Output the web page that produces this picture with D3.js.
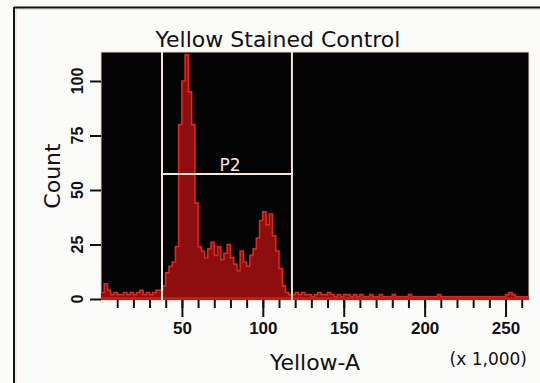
<!DOCTYPE html>
<html>
<head>
<meta charset="utf-8">
<script src="https://cdn.jsdelivr.net/npm/d3@7"></script>
<style>
  html, body { margin: 0; padding: 0; background: #fbfbfa; }
  svg { display: block; }
</style>
</head>
<body>
<div id="chart"></div>
<script>
// histogram of Yellow-A (x 1,000), bins 2 units wide starting at 0
const binWidth = 2;
const counts = [
  3, 7, 4, 2, 3, 2, 2, 3, 2, 3, 2, 3, 4, 2, 3, 2, 3, 4, 4,
  6, 12, 15, 17, 24, 80, 100, 112, 95, 80, 44, 24, 22, 19, 23, 26, 20, 24, 18, 21,
  25, 19, 16, 13, 22, 17, 15, 20, 23, 28, 36, 40, 34, 39, 29, 22, 14, 6, 3, 2,
  2, 3, 2, 3, 2, 2, 1, 2, 3, 2, 2, 3, 2, 1, 2, 1, 2, 2, 1, 2, 1, 2, 1, 1, 2, 1,
  1, 2, 1, 1, 1, 2, 1, 1, 1, 1, 2, 1, 1, 1, 1, 1, 1, 1, 1, 2, 1, 1, 1, 1, 1, 1,
  1, 1, 1, 1, 1, 1, 1, 1, 1, 1, 1, 1, 1, 1, 2, 3, 2, 1, 1, 1, 1
];
const xMajorTicks = [50, 100, 150, 200, 250];
const xMinorTicks = d3.range(10, 261, 10);
const yTicks = [0, 25, 50, 75, 100];
const gate = { name: "P2", from: 37.7, to: 118, level: 57.3 };

const W = 540, H = 383;
const plot = { left: 101, right: 529, top: 52, bottom: 299 };

const svg = d3.select('#chart').append('svg')
  .attr('width', W).attr('height', H);

// outer frame (top + left edges visible)
svg.append('rect').attr('x', 0).attr('y', 0).attr('width', W).attr('height', H).attr('fill', '#fbfbfa');
svg.append('line').attr('x1', 14).attr('x2', W).attr('y1', 7.5).attr('y2', 7.5)
  .attr('stroke', '#111').attr('stroke-width', 2);
svg.append('line').attr('x1', 14).attr('x2', 14).attr('y1', 7).attr('y2', H)
  .attr('stroke', '#111').attr('stroke-width', 2);
svg.append('line').attr('x1', 16).attr('x2', W).attr('y1', 9.5).attr('y2', 9.5)
  .attr('stroke', '#f2d6c8').attr('stroke-width', 1);
svg.append('line').attr('x1', 16).attr('x2', 16).attr('y1', 9).attr('y2', H)
  .attr('stroke', '#f2d6c8').attr('stroke-width', 1);

const x = d3.scaleLinear().domain([0, 264.5]).range([plot.left, plot.right]);
const y = d3.scaleLinear().domain([0, 113.3]).range([plot.bottom, plot.top]);

// plot background
svg.append('rect')
  .attr('x', plot.left).attr('y', plot.top)
  .attr('width', plot.right - plot.left).attr('height', plot.bottom - plot.top + 1)
  .attr('fill', '#050404')
  .attr('stroke', '#f0d2c4').attr('stroke-width', 1);

// histogram
const pts = counts.map((c, i) => ({ x0: i * binWidth, c: c }));
pts.push({ x0: counts.length * binWidth, c: counts[counts.length - 1] });

const area = d3.area()
  .x(d => x(d.x0))
  .y0(y(0) + 1)
  .y1(d => y(d.c))
  .curve(d3.curveStepAfter);
const line = d3.line()
  .x(d => x(d.x0))
  .y(d => y(d.c))
  .curve(d3.curveStepAfter);

svg.append('path').datum(pts).attr('d', area).attr('fill', '#8c0e0e');
svg.append('path').datum(pts).attr('d', line)
  .attr('fill', 'none').attr('stroke', '#e3261d').attr('stroke-width', 1.6);
svg.append('rect')
  .attr('x', plot.left).attr('y', y(0) - 2)
  .attr('width', plot.right - plot.left).attr('height', 3)
  .attr('fill', '#c81a16');

// gate P2
const gateColor = '#f6e6dc';
[gate.from, gate.to].forEach(v => {
  svg.append('line')
    .attr('x1', x(v)).attr('x2', x(v))
    .attr('y1', plot.top).attr('y2', plot.bottom + 1)
    .attr('stroke', gateColor).attr('stroke-width', 2);
});
svg.append('line')
  .attr('x1', x(gate.from)).attr('x2', x(gate.to))
  .attr('y1', y(gate.level)).attr('y2', y(gate.level))
  .attr('stroke', gateColor).attr('stroke-width', 2);
svg.append('text')
  .attr('x', x((gate.from + gate.to) / 2) + 3).attr('y', y(gate.level) - 3)
  .attr('text-anchor', 'middle')
  .attr('font-family', 'DejaVu Sans').attr('font-size', 17)
  .attr('fill', gateColor)
  .text(gate.name);

// x axis
const xAxisMajor = d3.axisBottom(x).tickValues(xMajorTicks).tickSize(17).tickPadding(5);
const xAxisMinor = d3.axisBottom(x).tickValues(xMinorTicks).tickSize(8).tickFormat('');

const gxMinor = svg.append('g').attr('transform', `translate(0,${plot.bottom + 1})`).call(xAxisMinor);
const gxMajor = svg.append('g').attr('transform', `translate(0,${plot.bottom + 1})`).call(xAxisMajor);
[gxMinor, gxMajor].forEach(g => {
  g.select('.domain').remove();
  g.selectAll('line').attr('stroke', '#111').attr('stroke-width', 2);
});
gxMajor.selectAll('text')
  .attr('font-family', 'Liberation Sans, Arial, sans-serif')
  .attr('font-size', 17).attr('font-weight', 'bold').attr('fill', '#111');

// y axis
const yAxis = d3.axisLeft(y).tickValues(yTicks).tickSize(11).tickFormat('');
const gy = svg.append('g').attr('transform', `translate(${plot.left},0)`).call(yAxis);
gy.select('.domain').remove();
gy.selectAll('line').attr('stroke', '#111').attr('stroke-width', 2);

svg.selectAll('.ylab').data(yTicks).enter().append('text')
  .attr('class', 'ylab')
  .attr('transform', d => `translate(83,${y(d)}) rotate(-90)`)
  .attr('text-anchor', 'middle')
  .attr('font-family', 'Liberation Sans, Arial, sans-serif')
  .attr('font-size', 16).attr('font-weight', 'bold').attr('fill', '#111')
  .text(d => d);

// titles
svg.append('text')
  .attr('x', 278).attr('y', 47)
  .attr('text-anchor', 'middle')
  .attr('font-family', 'DejaVu Sans').attr('font-size', 22).attr('fill', '#111')
  .text('Yellow Stained Control');

svg.append('text')
  .attr('transform', 'translate(60,176) rotate(-90)')
  .attr('text-anchor', 'middle')
  .attr('font-family', 'DejaVu Sans').attr('font-size', 22).attr('fill', '#111')
  .text('Count');

svg.append('text')
  .attr('x', 315).attr('y', 370)
  .attr('text-anchor', 'middle')
  .attr('font-family', 'DejaVu Sans').attr('font-size', 22).attr('fill', '#111')
  .text('Yellow-A');

svg.append('text')
  .attr('x', 527).attr('y', 365)
  .attr('text-anchor', 'end')
  .attr('font-family', 'DejaVu Sans').attr('font-size', 17).attr('fill', '#111')
  .text('(x 1,000)');
</script>
</body>
</html>
